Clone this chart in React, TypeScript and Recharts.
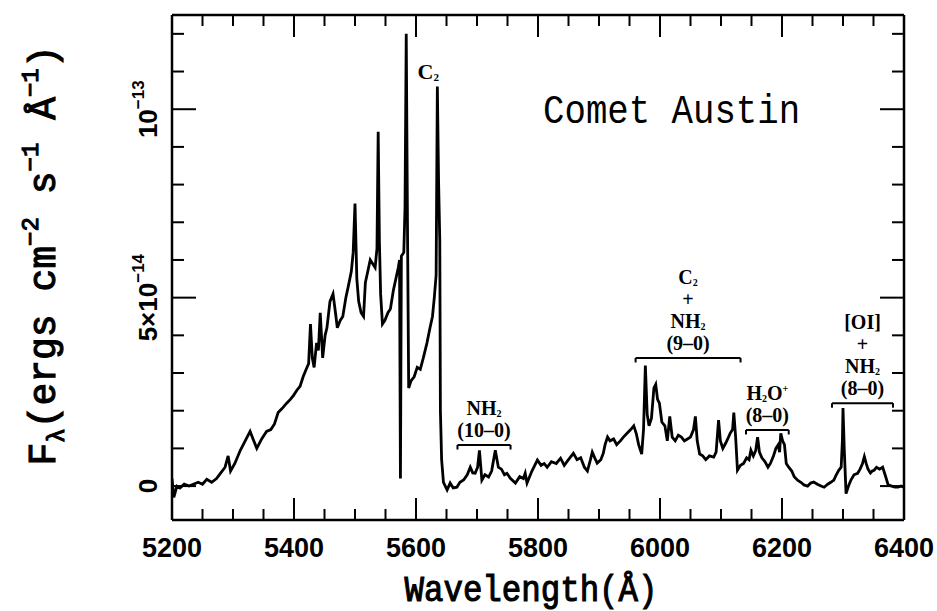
import React from 'react';
import { ComposedChart, Line, XAxis, YAxis, ReferenceLine, ReferenceDot } from 'recharts';

// Wavelength (Å)
const wavelength = [
  5200, 5203, 5208, 5213, 5220, 5228, 5235, 5243, 5250, 5257, 5265, 5273, 5280, 5287, 5292, 5296,
  5303, 5312, 5320, 5328, 5334, 5339, 5347, 5355, 5362, 5368, 5374, 5380, 5388, 5394, 5399,
  5405, 5410, 5415, 5420, 5424, 5427, 5430, 5433, 5437, 5440, 5443, 5447, 5451, 5454, 5459, 5464, 5468, 5471, 5476, 5480, 5485, 5489, 5494, 5497,
  5500, 5503, 5506, 5510, 5514, 5517, 5521, 5525, 5529, 5533, 5536, 5538, 5540, 5542, 5545, 5549, 5554, 5558, 5563, 5567, 5571, 5573, 5574.5, 5576, 5580, 5582, 5584, 5586, 5588, 5592, 5597,
  5602, 5607, 5612, 5618, 5623, 5627, 5630, 5633, 5635, 5637, 5639, 5640, 5642, 5645, 5651, 5656, 5661, 5667, 5672, 5678, 5684, 5689, 5693, 5697,
  5701, 5704, 5708, 5713, 5719, 5724, 5730, 5735, 5740, 5745, 5749, 5755, 5763, 5770, 5776, 5779, 5782, 5790, 5799,
  5805, 5810, 5815, 5822, 5830, 5837, 5843, 5850, 5858, 5864, 5870, 5876, 5881, 5886, 5889, 5893, 5897,
  5903, 5907, 5910, 5914, 5918, 5924, 5929, 5935, 5940, 5946, 5952, 5957, 5961, 5965, 5970, 5973, 5976, 5979, 5982, 5986, 5990, 5993, 5996, 5999,
  6003, 6008, 6012, 6016, 6020, 6025, 6030, 6035, 6040, 6045, 6050, 6055, 6058, 6061, 6065, 6070, 6075, 6081, 6088, 6092, 6096, 6099,
  6103, 6108, 6111, 6115, 6119, 6121, 6124, 6127, 6132, 6137, 6142, 6146, 6149, 6153, 6157, 6160, 6163, 6167, 6172, 6177, 6181, 6186, 6190, 6194, 6196, 6198,
  6201, 6204, 6207, 6211, 6216, 6220, 6226, 6231, 6236, 6242, 6247, 6252, 6258, 6264, 6269, 6275, 6280, 6285, 6289, 6293, 6297, 6299,
  6300, 6302, 6305, 6309, 6313, 6318, 6324, 6328, 6332, 6335, 6338, 6341, 6345, 6348, 6351, 6355, 6360, 6365, 6369, 6374, 6380, 6385, 6390, 6395, 6400,
];

// Flux in units of 1e-14 ergs cm^-2 s^-1 Å^-1
const flux = [
  0.2, -0.3, 0.0, -0.05, 0.05, 0.0, 0.05, 0.1, 0.05, 0.18, 0.1, 0.2, 0.35, 0.5, 0.8, 0.4,
  0.6, 0.95, 1.2, 1.45, 1.2, 1.0, 1.25, 1.45, 1.5, 1.65, 1.95, 2.05, 2.2, 2.3, 2.4,
  2.55, 2.65, 2.9, 3.1, 3.25, 4.3, 3.4, 3.15, 3.8, 3.6, 4.6, 3.4, 4.0, 4.2, 4.9, 5.1, 4.6, 4.2, 4.4, 4.5, 5.0, 5.3, 5.7, 6.2,
  7.5, 5.5, 4.9, 4.6, 4.5, 5.4, 5.7, 6.0, 5.9, 5.8, 6.3, 9.4, 6.5, 5.1, 4.3, 4.4, 4.6, 4.7, 5.2, 5.5, 5.8, 6.0, 0.2, 6.1, 6.2, 7.4, 12.0, 7.0, 2.6, 2.8, 2.9,
  3.15, 3.1, 3.4, 3.8, 4.2, 4.5, 5.0, 5.6, 10.6, 8.1, 6.5, 2.0, 0.7, 0.1, -0.1, 0.08, -0.05, -0.03, 0.1, 0.16, 0.3, 0.5, 0.35, 0.34,
  0.5, 0.95, 0.16, 0.3, 0.24, 0.4, 0.95, 0.5, 0.45, 0.3, 0.34, 0.2, 0.08, 0.25, 0.2, 0.34, 0.08, 0.4, 0.69,
  0.55, 0.6, 0.5, 0.65, 0.6, 0.74, 0.55, 0.7, 0.87, 0.7, 0.75, 0.5, 0.4, 0.7, 0.9, 0.75, 0.61,
  0.7, 0.87, 1.1, 1.3, 1.2, 1.25, 1.1, 1.2, 1.3, 1.4, 1.5, 1.6, 1.4, 1.1, 0.85, 1.5, 3.2, 1.9, 1.6, 1.8, 2.6, 2.7, 2.3, 2.2,
  1.7, 1.6, 1.2, 1.85, 1.3, 1.2, 1.35, 1.3, 1.2, 1.25, 1.3, 1.5, 1.85, 1.2, 0.85, 0.8, 0.7, 0.8, 0.77, 0.9, 1.75, 1.2,
  1.0, 1.15, 1.25, 1.4, 1.5, 1.95, 1.3, 0.42, 0.55, 0.6, 0.75, 0.7, 0.95, 0.8, 0.95, 1.3, 0.9, 0.75, 0.65, 0.5, 0.6, 0.8, 1.0, 1.1, 0.9, 1.4,
  1.2, 1.1, 0.6, 0.5, 0.4, 0.25, 0.15, 0.1, 0.03, 0.0, 0.08, 0.11, 0.05, 0.0, -0.03, 0.05, 0.1, 0.16, 0.3, 0.42, 0.5, 1.2,
  2.07, 1.0, -0.2, 0.0, 0.16, 0.3, 0.34, 0.45, 0.6, 0.78, 0.6, 0.45, 0.35, 0.4, 0.42, 0.5, 0.45, 0.5, 0.3, 0.03, 0.0, -0.03, -0.03, 0.0, -0.03,
];

const xTicks = [
  5200, 5250, 5300, 5350, 5400, 5450, 5500, 5550, 5600, 5650, 5700, 5750, 5800,
  5850, 5900, 5950, 6000, 6050, 6100, 6150, 6200, 6250, 6300, 6350, 6400,
];
const xLabelTicks = [5200, 5400, 5600, 5800, 6000, 6200, 6400];
const yTicks = [0, 1, 2, 3, 4, 5, 6, 7, 8, 9, 10, 11, 12];
const yMajorTicks = [0, 5, 10];
const yTickBase = ['0', '5×10', '10'];
const yTickExp = ['', '−14', '−13'];

const bandText = [
  ['NH_2', '(10–0)'],
  ['C_2', '+', 'NH_2', '(9–0)'],
  ['H_2O^+', '(8–0)'],
  ['[OI]', '+', 'NH_2', '(8–0)'],
];
const bandFrom = [5668, 5960, 6141, 6282];
const bandTo = [5755, 6132, 6211, 6382];
const bandLevel = [1.09, 3.4, 1.49, 2.2];

const peakLabel = 'C_2';
const peakLabelX = 5620;
const peakLabelY = 10.8;

const titleText = 'Comet Austin';
const titleX = 6019;
const titleY = 9.63;

const rows = wavelength.map((w, i) => ({ w, f: flux[i] }));

const SERIF = '"Liberation Serif", "DejaVu Serif", serif';
const SANS = '"Liberation Sans", Arial, sans-serif';
const MONO = '"Liberation Mono", "DejaVu Sans Mono", monospace';

// Builds tspans for a string with _x (subscript) and ^x (superscript) markup.
// The first tspan is placed absolutely at (x, y); the rest use relative dy.
function rich(s: string, fs: number, x: number, y: number, keyBase: string) {
  const toks: { t: string; k: number }[] = [];
  let i = 0;
  while (i < s.length) {
    const c = s[i];
    if ((c === '_' || c === '^') && i + 1 < s.length) {
      toks.push({ t: s[i + 1], k: c === '_' ? 1 : -1 });
      i += 2;
    } else {
      if (toks.length && toks[toks.length - 1].k === 0) toks[toks.length - 1].t += c;
      else toks.push({ t: c, k: 0 });
      i += 1;
    }
  }
  let cur = 0;
  return toks.map((tk, j) => {
    const target = tk.k === 1 ? fs * 0.08 : tk.k === -1 ? -fs * 0.4 : 0;
    const dy = target - cur;
    cur = target;
    const size = tk.k === 0 ? fs : fs * 0.5;
    if (j === 0) {
      return (
        <tspan key={`${keyBase}-${j}`} x={x} y={y + target} fontSize={size}>
          {tk.t}
        </tspan>
      );
    }
    return (
      <tspan key={`${keyBase}-${j}`} dy={dy} fontSize={size}>
        {tk.t}
      </tspan>
    );
  });
}

const BottomTick = (props: any) => {
  const { x, y, payload } = props;
  const v = payload.value;
  const major = xLabelTicks.includes(v);
  return (
    <g>
      <line x1={x} y1={y} x2={x} y2={y - (major ? 22 : 11)} stroke="#000" strokeWidth={2} />
      {major && (
        <text x={x} y={y + 37} textAnchor="middle" fontFamily={SANS} fontWeight="bold" fontSize={27} fill="#000">
          {v}
        </text>
      )}
    </g>
  );
};

const TopTick = (props: any) => {
  const { x, y, payload } = props;
  const major = xLabelTicks.includes(payload.value);
  return <line x1={x} y1={y} x2={x} y2={y + (major ? 22 : 11)} stroke="#000" strokeWidth={2} />;
};

const LeftTick = (props: any) => {
  const { x, y, payload } = props;
  const v = payload.value;
  const idx = yMajorTicks.indexOf(v);
  const major = idx >= 0;
  const bx = x - 15;
  return (
    <g>
      <line x1={x} y1={y} x2={x + (major ? 24 : 12)} y2={y} stroke="#000" strokeWidth={2} />
      {major && (
        <text
          transform={`rotate(-90 ${bx} ${y})`}
          x={bx}
          y={y}
          textAnchor="middle"
          fontFamily={SANS}
          fontWeight="bold"
          fontSize={26}
          fill="#000"
        >
          {yTickBase[idx]}
          {yTickExp[idx] && (
            <tspan dy={-13} fontSize={17}>
              {yTickExp[idx]}
            </tspan>
          )}
        </text>
      )}
    </g>
  );
};

const RightTick = (props: any) => {
  const { x, y, payload } = props;
  const major = yMajorTicks.includes(payload.value);
  return <line x1={x} y1={y} x2={x - (major ? 24 : 12)} y2={y} stroke="#000" strokeWidth={2} />;
};

const XTitle = (props: any) => {
  const vb = props.viewBox;
  return (
    <text
      x={vb.x + vb.width / 2 - 7}
      y={vb.y + 81}
      textAnchor="middle"
      fontFamily={MONO}
      fontSize={36}
      stroke="#000"
      strokeWidth={1.1}
      textLength={253}
      lengthAdjust="spacingAndGlyphs"
      fill="#000"
    >
      Wavelength(Å)
    </text>
  );
};

const YTitle = (props: any) => {
  const vb = props.viewBox;
  const cx = 55;
  const cy = vb.y + vb.height / 2 - 12;
  const fs = 38;
  const ss = 24;
  return (
    <text
      transform={`rotate(-90 ${cx} ${cy})`}
      x={cx}
      y={cy}
      textAnchor="middle"
      fontFamily={MONO}
      fontSize={fs}
      stroke="#000"
      strokeWidth={1.1}
      fill="#000"
    >
      <tspan>F</tspan>
      <tspan fontSize={ss} dy={9}>λ</tspan>
      <tspan dy={-9}>(ergs cm</tspan>
      <tspan fontSize={ss} dy={-17}>−2</tspan>
      <tspan dy={17}>{' s'}</tspan>
      <tspan fontSize={ss} dy={-17}>−1</tspan>
      <tspan dy={17}>{' Å'}</tspan>
      <tspan fontSize={ss} dy={-17}>−1</tspan>
      <tspan dy={17}>)</tspan>
    </text>
  );
};

const makeBandLabel = (lines: string[]) => (p: any) => {
  const { cx, cy } = p;
  const fs = 20;
  const n = lines.length;
  const spans: any[] = [];
  lines.forEach((ln, k) => {
    const fromBottom = n - 1 - k;
    const yy = cy - 8 - fromBottom * 22;
    spans.push(...rich(ln, fs, cx, yy, `l${k}`));
  });
  return (
    <text textAnchor="middle" fontFamily={SERIF} fontWeight="bold" fontSize={fs} fill="#000">
      {spans}
    </text>
  );
};

const PeakLabel = (p: any) => (
  <text textAnchor="middle" fontFamily={SERIF} fontWeight="bold" fontSize={22} fill="#000">
    {rich(peakLabel, 22, p.cx, p.cy, 'pk')}
  </text>
);

const TitleLabel = (p: any) => (
  <text
    x={p.cx}
    y={p.cy}
    textAnchor="middle"
    fontFamily={MONO}
    fontSize={40}
    textLength={257}
    lengthAdjust="spacingAndGlyphs"
    fill="#000"
  >
    {titleText}
  </text>
);

export default function App() {
  const axisLine = { stroke: '#000', strokeWidth: 2.5 };
  return (
    <div style={{ position: 'absolute', left: 0, top: 0, width: 937, height: 611, background: '#fff' }}>
      <ComposedChart width={937} height={611} data={rows} margin={{ top: 0, right: 0, bottom: 0, left: 0 }}>
        <XAxis
          dataKey="w"
          type="number"
          domain={[5200, 6400]}
          allowDataOverflow
          ticks={xTicks}
          interval={0}
          height={91}
          tickSize={0}
          tickMargin={0}
          tickLine={false}
          tick={BottomTick}
          axisLine={axisLine}
          label={{ content: XTitle }}
        />
        <XAxis
          xAxisId="top"
          orientation="top"
          dataKey="w"
          type="number"
          domain={[5200, 6400]}
          allowDataOverflow
          ticks={xTicks}
          interval={0}
          height={15}
          tickSize={0}
          tickMargin={0}
          tickLine={false}
          tick={TopTick}
          axisLine={axisLine}
        />
        <YAxis
          type="number"
          domain={[-0.9, 12.5]}
          allowDataOverflow
          ticks={yTicks}
          interval={0}
          width={172}
          tickSize={0}
          tickMargin={0}
          tickLine={false}
          tick={LeftTick}
          axisLine={axisLine}
          label={{ content: YTitle }}
        />
        <YAxis
          yAxisId="right"
          orientation="right"
          type="number"
          domain={[-0.9, 12.5]}
          allowDataOverflow
          ticks={yTicks}
          interval={0}
          width={33}
          tickSize={0}
          tickMargin={0}
          tickLine={false}
          tick={RightTick}
          axisLine={axisLine}
        />
        <Line
          xAxisId="top"
          yAxisId="right"
          dataKey="f"
          stroke="none"
          dot={false}
          activeDot={false}
          isAnimationActive={false}
        />
        <Line
          dataKey="f"
          type="linear"
          stroke="#000"
          strokeWidth={2.8}
          strokeLinejoin="miter"
          dot={false}
          activeDot={false}
          isAnimationActive={false}
        />
        {bandFrom.map((a, i) => (
          <ReferenceLine
            key={`b${i}`}
            segment={[
              { x: a, y: bandLevel[i] },
              { x: bandTo[i], y: bandLevel[i] },
            ]}
            stroke="#000"
            strokeWidth={2}
          />
        ))}
        {bandFrom.map((a, i) => (
          <ReferenceLine
            key={`hl${i}`}
            segment={[
              { x: a, y: bandLevel[i] },
              { x: a, y: bandLevel[i] - 0.12 },
            ]}
            stroke="#000"
            strokeWidth={2}
          />
        ))}
        {bandTo.map((b, i) => (
          <ReferenceLine
            key={`hr${i}`}
            segment={[
              { x: b, y: bandLevel[i] },
              { x: b, y: bandLevel[i] - 0.12 },
            ]}
            stroke="#000"
            strokeWidth={2}
          />
        ))}
        {bandText.map((lines, i) => (
          <ReferenceDot
            key={`t${i}`}
            x={(bandFrom[i] + bandTo[i]) / 2}
            y={bandLevel[i]}
            r={1}
            fill="none"
            stroke="none"
            shape={makeBandLabel(lines)}
          />
        ))}
        <ReferenceDot x={peakLabelX} y={peakLabelY} r={1} fill="none" stroke="none" shape={PeakLabel} />
        <ReferenceDot x={titleX} y={titleY} r={1} fill="none" stroke="none" shape={TitleLabel} />
      </ComposedChart>
    </div>
  );
}
